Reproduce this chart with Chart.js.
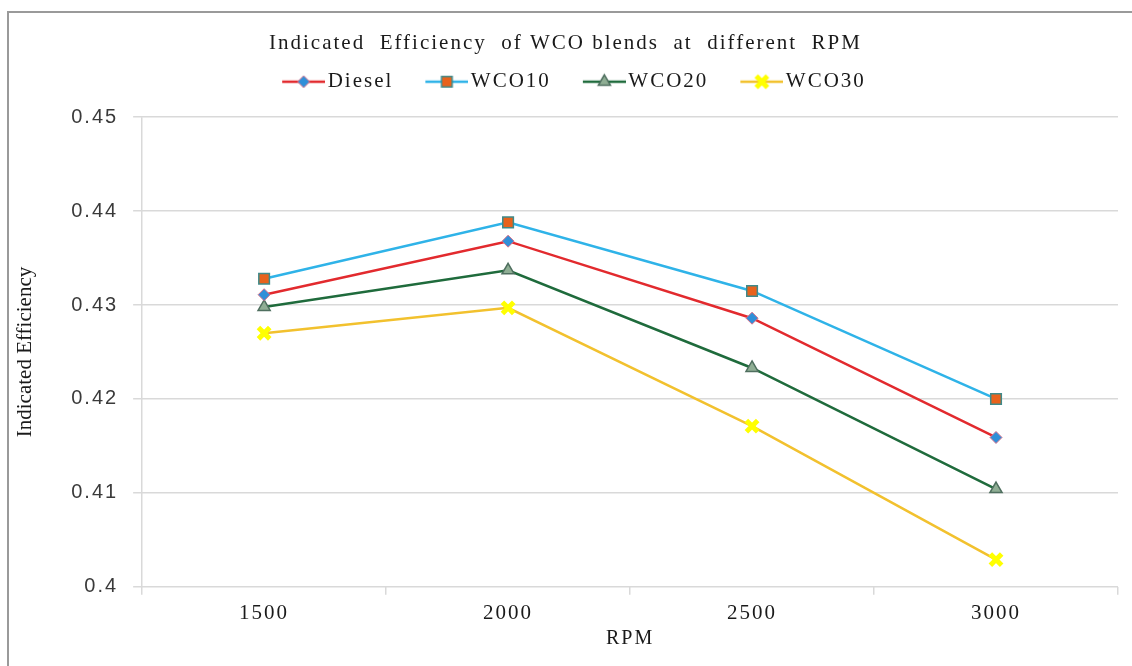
<!DOCTYPE html>
<html>
<head>
<meta charset="utf-8">
<title>Indicated Efficiency of WCO blends</title>
<script src="https://cdn.jsdelivr.net/npm/chart.js@4.4.1/dist/chart.umd.min.js"></script>
<style>
  html, body { margin: 0; padding: 0; background: #fff; overflow: hidden; }
  body { width: 1132px; height: 666px; position: relative; }
  #frame { position: absolute; left: 7px; top: 11px; width: 1200px; height: 800px;
           border-left: 2px solid #9a9a9a; border-top: 2px solid #9a9a9a; }
  #chart { position: absolute; left: 10px; top: 14px; }
</style>
</head>
<body>
<div id="frame"></div>
<canvas id="chart" width="1150" height="652"></canvas>
<script>
// data
const rpm = ['1500', '2000', '2500', '3000'];
const diesel = [0.4311, 0.4368, 0.4286, 0.4159];
const wco10  = [0.4328, 0.4388, 0.4315, 0.4200];
const wco20  = [0.4298, 0.4337, 0.4233, 0.4104];
const wco30  = [0.4270, 0.4297, 0.4171, 0.4029];
const yTicks = [0.4, 0.41, 0.42, 0.43, 0.44, 0.45];

const serif = "'Liberation Serif', 'Times New Roman', serif";
const sans = "'Liberation Sans', Arial, sans-serif";

// series look: line colour + marker
const looks = [
  { label: 'Diesel', data: diesel, line: '#e22a2e', style: 'rectRot',  fill: '#2f8fd8', stroke: '#d4708c', r: 6,   bw: 1 },
  { label: 'WCO10',  data: wco10,  line: '#2fb3e8', style: 'rect',     fill: '#e8621c', stroke: '#3f8a8a', r: 7.5, bw: 1.5 },
  { label: 'WCO20',  data: wco20,  line: '#1f6b3c', style: 'triangle', fill: '#8fae94', stroke: '#4f6f5f', r: 7,   bw: 1.5 },
  { label: 'WCO30',  data: wco30,  line: '#f2c12e', style: 'crossRot', fill: '#ffff00', stroke: '#ffff00', r: 8,   bw: 5 }
];

// legend icon: short line with the marker in the middle; the blank left part
// of the icon gives the gap before each entry, the right end sits by the text
function legendIcon(lk) {
  const c = document.createElement('canvas');
  c.width = 68; c.height = 20;
  const g = c.getContext('2d');
  g.strokeStyle = lk.line; g.lineWidth = 2.5;
  g.beginPath(); g.moveTo(25, 10); g.lineTo(68, 10); g.stroke();
  g.fillStyle = lk.fill; g.strokeStyle = lk.stroke; g.lineWidth = lk.bw;
  Chart.helpers.drawPoint(g, { pointStyle: lk.style, radius: lk.r, borderWidth: lk.bw, rotation: 0 }, 46.5, 10);
  return c;
}
const icons = looks.map(legendIcon);

const datasets = looks.map(lk => ({
  label: lk.label,
  data: lk.data,
  borderColor: lk.line,
  borderWidth: 2.5,
  tension: 0,
  pointStyle: lk.style,
  pointRadius: lk.r,
  pointHoverRadius: lk.r,
  pointBackgroundColor: lk.fill,
  pointBorderColor: lk.stroke,
  pointBorderWidth: lk.bw
}));

const grey = '#d9d9d9';

// the source picture is stretched sideways; widen text a bit with letter spacing,
// push the plot down below the legend, keep the rotated y title unspaced
const widen = {
  id: 'widen',
  beforeUpdate(chart) {
    chart.ctx.letterSpacing = '2px';
    const lg = chart.legend;
    if (lg && !lg._gapped) {
      const fit = lg.fit;
      lg.fit = function () { fit.call(this); this.height += 15; };
      lg._gapped = true;
    }
  },
  beforeDraw(chart) {
    chart.ctx.letterSpacing = '2px';
    const y = chart.scales.y;
    if (y && !y._plainTitle) {
      const dt = y.drawTitle;
      y.drawTitle = function () {
        const ctx = this.ctx;
        ctx.letterSpacing = '0px';
        dt.apply(this, arguments);
        ctx.letterSpacing = '2px';
      };
      y._plainTitle = true;
    }
  }
};

new Chart(document.getElementById('chart'), {
  type: 'line',
  data: { labels: rpm, datasets: datasets },
  plugins: [widen],
  options: {
    responsive: false,
    animation: false,
    devicePixelRatio: 1,
    layout: { padding: { left: 3, right: 42, top: 0, bottom: 15 } },
    plugins: {
      title: {
        display: true,
        text: 'Indicated  Efficiency  of WCO blends  at  different  RPM',
        color: '#1a1a1a',
        font: { family: serif, size: 21, weight: 'normal' },
        padding: { top: 17, bottom: 0 }
      },
      legend: {
        display: true,
        labels: {
          color: '#1a1a1a',
          font: { family: serif, size: 21 },
          usePointStyle: true,
          pointStyleWidth: 52,
          padding: 15,
          generateLabels: chart => chart.data.datasets.map((ds, i) => ({
            text: ds.label,
            pointStyle: icons[i],
            datasetIndex: i,
            hidden: false,
            fontColor: '#1a1a1a',
            lineWidth: 0,
            strokeStyle: 'rgba(0,0,0,0)',
            fillStyle: 'rgba(0,0,0,0)'
          }))
        }
      },
      tooltip: { enabled: false }
    },
    scales: {
      x: {
        offset: true,
        border: { display: false },
        grid: {
          offset: true,
          drawOnChartArea: true,
          color: ctx => (ctx.index === 0 || ctx.index === rpm.length) ? grey : 'rgba(0,0,0,0)',
          tickColor: grey,
          tickLength: 8,
          lineWidth: 1.5
        },
        ticks: { color: '#1a1a1a', font: { family: serif, size: 21 }, padding: 6 },
        title: {
          display: true,
          text: 'RPM',
          color: '#1a1a1a',
          font: { family: serif, size: 20 },
          padding: { top: -5, bottom: 0 }
        }
      },
      y: {
        min: yTicks[0],
        max: yTicks[yTicks.length - 1],
        border: { display: false },
        grid: { color: grey, lineWidth: 1.5, tickLength: 9, tickColor: grey },
        afterBuildTicks: axis => { axis.ticks = yTicks.map(v => ({ value: v })); },
        ticks: {
          color: '#3a3a3a',
          font: { family: sans, size: 20 },
          padding: 15,
          callback: v => String(+v.toFixed(2))
        },
        title: {
          display: true,
          text: 'Indicated Efficiency',
          color: '#1a1a1a',
          font: { family: serif, size: 21 },
          padding: { top: 0, bottom: 18 }
        }
      }
    }
  }
});
</script>
</body>
</html>
